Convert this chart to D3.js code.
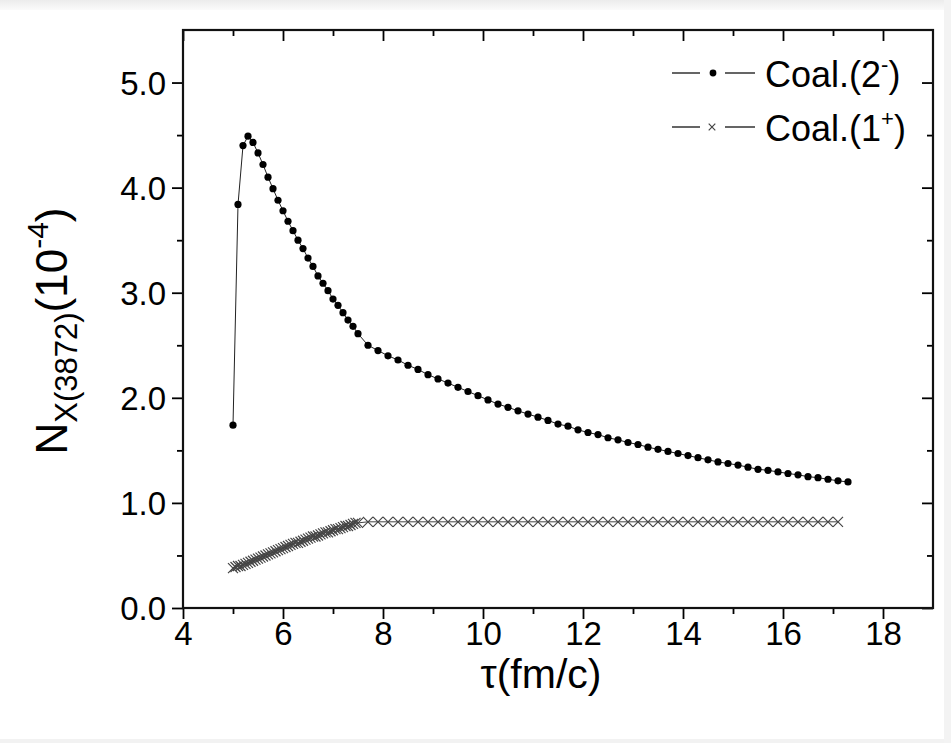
<!DOCTYPE html>
<html><head><meta charset="utf-8">
<script src="https://cdn.jsdelivr.net/npm/d3@7"></script>
<style>html,body{margin:0;padding:0;background:#fff;}svg{display:block;}</style>
</head><body>
<svg id="chart" width="951" height="743"></svg>
<script>
// ---- data ----
const tau2 = [5.0,5.1,5.2,5.3,5.4,5.5,5.6,5.7,5.8,5.9,6.0,6.1,6.2,6.3,6.4,6.5,6.6,6.7,6.8,6.9,7.0,7.1,7.2,7.3,7.4,7.5,
  7.7,7.9,8.1,8.3,8.5,8.7,8.9,9.1,9.3,9.5,9.7,9.9,10.1,10.3,10.5,10.7,10.9,11.1,11.3,11.5,11.7,11.9,12.1,12.3,12.5,12.7,12.9,
  13.1,13.3,13.5,13.7,13.9,14.1,14.3,14.5,14.7,14.9,15.1,15.3,15.5,15.7,15.9,16.1,16.3,16.5,16.7,16.9,17.1,17.3];
const coal2 = [1.74,3.84,4.40,4.49,4.43,4.33,4.22,4.10,3.99,3.88,3.78,3.68,3.59,3.50,3.42,3.33,3.25,3.16,3.09,3.02,2.94,2.88,2.81,2.74,2.68,2.61,
  2.50,2.45,2.40,2.36,2.31,2.27,2.22,2.18,2.14,2.10,2.06,2.02,1.98,1.94,1.91,1.876,1.845,1.816,1.785,1.75,1.73,1.695,1.67,1.65,1.62,1.60,1.575,
  1.556,1.53,1.51,1.49,1.47,1.45,1.43,1.41,1.39,1.375,1.36,1.34,1.32,1.31,1.295,1.28,1.267,1.25,1.24,1.225,1.21,1.20];
const tau1 = [5.00,5.05,5.10,5.15,5.20,5.25,5.30,5.35,5.40,5.45,5.50,5.55,5.60,5.65,5.70,5.75,5.80,5.85,5.90,5.95,
  6.00,6.05,6.10,6.15,6.20,6.25,6.30,6.35,6.40,6.45,6.50,6.55,6.60,6.65,6.70,6.75,6.80,6.85,6.90,6.95,
  7.00,7.05,7.10,7.15,7.20,7.25,7.30,7.35,7.40,7.45,7.50,
  7.7,7.9,8.1,8.3,8.5,8.7,8.9,9.1,9.3,9.5,9.7,9.9,10.1,10.3,10.5,10.7,10.9,11.1,11.3,11.5,11.7,11.9,12.1,12.3,12.5,12.7,12.9,
  13.1,13.3,13.5,13.7,13.9,14.1,14.3,14.5,14.7,14.9,15.1,15.3,15.5,15.7,15.9,16.1,16.3,16.5,16.7,16.9,17.1,17.3];
const coal1 = [0.38,0.39,0.40,0.40,0.41,0.42,0.43,0.44,0.45,0.46,0.47,0.48,0.49,0.50,0.51,0.52,0.53,0.54,0.55,0.56,
  0.57,0.58,0.59,0.60,0.61,0.62,0.62,0.63,0.64,0.65,0.66,0.67,0.68,0.68,0.69,0.70,0.71,0.72,0.72,0.73,
  0.74,0.75,0.75,0.76,0.77,0.78,0.78,0.79,0.80,0.81,0.81,
  0.82,0.82,0.82,0.82,0.82,0.82,0.82,0.82,0.82,0.82,0.82,0.82,0.82,0.82,0.82,0.82,0.82,0.82,0.82,0.82,0.82,0.82,0.82,0.82,0.82,0.82,0.82,
  0.82,0.82,0.82,0.82,0.82,0.82,0.82,0.82,0.82,0.82,0.82,0.82,0.82,0.82,0.82,0.82,0.82,0.82,0.82,0.82,0.82];
const xTickValues = [4,6,8,10,12,14,16,18];
const xMinorTicks = [5,7,9,11,13,15,17];
const yTickValues = [0,1,2,3,4,5];
const yMinorTicks = [0.5,1.5,2.5,3.5,4.5];
const legendLabels = [{base:"Coal.(2", sup:"-", end:")"},{base:"Coal.(1", sup:"+", end:")"}];

// ---- layout ----
const svg = d3.select("#chart");
const L = 183, R = 933, T = 30, B = 608;
const x = d3.scaleLinear().domain([4,19]).range([L,R]);
const y = d3.scaleLinear().domain([0,5.5]).range([B,T]);
const font = "'Liberation Sans', Arial, Helvetica, sans-serif";

// faint screenshot frame
const defs = svg.append("defs");
const gTop = defs.append("linearGradient").attr("id","gt").attr("x1",0).attr("y1",0).attr("x2",0).attr("y2",1);
gTop.append("stop").attr("offset","0").attr("stop-color","#ececec");
gTop.append("stop").attr("offset","1").attr("stop-color","#fbfbfb");
svg.append("rect").attr("x",0).attr("y",0).attr("width",951).attr("height",10).attr("fill","url(#gt)");
svg.append("rect").attr("x",0).attr("y",739).attr("width",951).attr("height",4).attr("fill","#f2f2f2");
svg.append("rect").attr("x",944).attr("y",0).attr("width",7).attr("height",743).attr("fill","#f3f3f3");

const plot = svg.append("g");

// data lines
const line = d3.line().x(d=>x(d[0])).y(d=>y(d[1]));
const d2 = tau2.map((t,i)=>[t,coal2[i]]);
const d1 = tau1.map((t,i)=>[t,coal1[i]]);
plot.append("path").datum(d2).attr("d",line).attr("fill","none").attr("stroke","#222").attr("stroke-width",1);
plot.append("path").datum(d1).attr("d",line).attr("fill","none").attr("stroke","#444").attr("stroke-width",1);

// cross markers
const cs = 5;
plot.append("g").selectAll("path").data(d1).join("path")
  .attr("d",d=>{const cx=x(d[0]), cy=y(d[1]); return `M${cx-cs},${cy-cs}L${cx+cs},${cy+cs}M${cx-cs},${cy+cs}L${cx+cs},${cy-cs}`;})
  .attr("stroke","#444").attr("stroke-width",1.2).attr("fill","none");
// dot markers
plot.append("g").selectAll("circle").data(d2).join("circle")
  .attr("cx",d=>x(d[0])).attr("cy",d=>y(d[1])).attr("r",3.6).attr("fill","#000");

// axes
const tickMaj = 11, tickMin = 6;
const gb = svg.append("g").attr("transform",`translate(0,${B})`)
  .call(d3.axisBottom(x).tickValues(xTickValues).tickSize(tickMaj).tickFormat(d3.format("d")));
const gbm = svg.append("g").attr("transform",`translate(0,${B})`)
  .call(d3.axisBottom(x).tickValues(xMinorTicks).tickSize(tickMin).tickFormat(""));
const gt = svg.append("g").attr("transform",`translate(0,${T})`)
  .call(d3.axisBottom(x).tickValues(xTickValues).tickSize(tickMaj).tickFormat(""));
const gtm = svg.append("g").attr("transform",`translate(0,${T})`)
  .call(d3.axisBottom(x).tickValues(xMinorTicks).tickSize(tickMin).tickFormat(""));
const gl = svg.append("g").attr("transform",`translate(${L},0)`)
  .call(d3.axisLeft(y).tickValues(yTickValues).tickSize(tickMaj).tickFormat(d3.format(".1f")));
const glm = svg.append("g").attr("transform",`translate(${L},0)`)
  .call(d3.axisLeft(y).tickValues(yMinorTicks).tickSize(tickMin).tickFormat(""));
const gr = svg.append("g").attr("transform",`translate(${R},0)`)
  .call(d3.axisLeft(y).tickValues(yTickValues).tickSize(tickMaj).tickFormat(""));
const grm = svg.append("g").attr("transform",`translate(${R},0)`)
  .call(d3.axisLeft(y).tickValues(yMinorTicks).tickSize(tickMin).tickFormat(""));

[gb,gbm,gt,gtm,gl,glm,gr,grm].forEach(g=>{
  g.select(".domain").remove();
  g.selectAll(".tick line").attr("stroke","#000").attr("stroke-width",1.8);
});
gb.selectAll(".tick text").attr("font-family",font).attr("font-size",33).attr("fill","#000").attr("dy","0.71em").attr("y",14);
gl.selectAll(".tick text").attr("font-family",font).attr("font-size",33).attr("fill","#000").attr("x",-17).attr("dy","0.36em");

// frame
svg.append("rect").attr("x",L).attr("y",T).attr("width",R-L).attr("height",B-T)
  .attr("fill","none").attr("stroke","#111").attr("stroke-width",2.2);

// axis titles
const xt = svg.append("text").attr("x",541).attr("y",688).attr("text-anchor","middle")
  .attr("font-family",font).attr("font-size",41).attr("fill","#000");
xt.append("tspan").text("τ(fm/c)");

const yt = svg.append("text").attr("transform","translate(67,331) rotate(-90)").attr("text-anchor","middle")
  .attr("font-family",font).attr("font-size",44).attr("fill","#000");
yt.append("tspan").text("N");
yt.append("tspan").attr("font-size",31).attr("dy",10).text("X(3872)");
yt.append("tspan").attr("dy",-10).text("(10");
yt.append("tspan").attr("font-size",30).attr("dy",-19).text("-4");
yt.append("tspan").attr("dy",19).text(")");

// legend
const lg = svg.append("g");
const rows = [73,127];
rows.forEach((ry,i)=>{
  lg.append("line").attr("x1",672).attr("x2",700).attr("y1",ry).attr("y2",ry).attr("stroke","#111").attr("stroke-width",1.3);
  lg.append("line").attr("x1",725).attr("x2",755).attr("y1",ry).attr("y2",ry).attr("stroke","#111").attr("stroke-width",1.3);
  if(i===0){
    lg.append("circle").attr("cx",713).attr("cy",ry).attr("r",3.4).attr("fill","#000");
  } else {
    const s=3.3, cx=712;
    lg.append("path").attr("d",`M${cx-s},${ry-s}L${cx+s},${ry+s}M${cx-s},${ry+s}L${cx+s},${ry-s}`)
      .attr("stroke","#444").attr("stroke-width",1.2);
  }
  const t = lg.append("text").attr("x",765).attr("y",ry+14).attr("font-family",font).attr("font-size",36).attr("fill","#000");
  t.append("tspan").text(legendLabels[i].base);
  t.append("tspan").attr("font-size",22).attr("dy",-15).text(legendLabels[i].sup);
  t.append("tspan").attr("dy",15).text(legendLabels[i].end);
});
</script>
</body></html>
